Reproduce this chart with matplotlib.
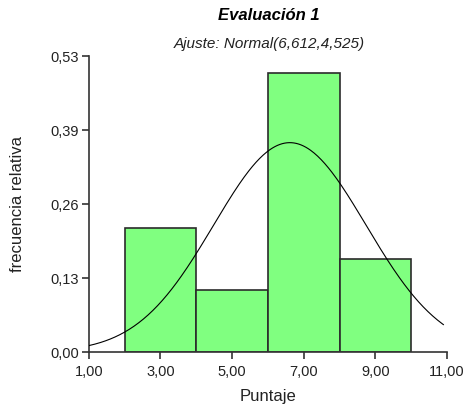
"""
Histogram of scores with fitted normal curve.
"""

import math
import numpy as np
import matplotlib.pyplot as plt

plt.rcParams["font.family"] = ["Liberation Sans", "DejaVu Sans"]

# Histogram bins and relative frequencies
bin_edges = [2.0, 4.0, 6.0, 8.0, 10.0]
rel_freq = [4 / 18, 2 / 18, 9 / 18, 3 / 18]

# Normal fit parameters (mean, variance)
fit_mean = 6.612
fit_var = 4.525

x_ticks = [1, 3, 5, 7, 9, 11]
y_max = 0.53
y_ticks = [0, y_max / 4, y_max / 2, 3 * y_max / 4, y_max]


def comma_label(v):
    # two decimals, truncated, decimal comma
    v = math.floor(v * 100 + 1e-6) / 100
    return f"{v:.2f}".replace(".", ",")


fig = plt.figure(figsize=(4.7, 4.07), dpi=100)
ax = fig.add_axes([0.189, 0.135, 0.762, 0.727])

# Bars
lefts = bin_edges[:-1]
widths = np.diff(bin_edges)
ax.bar(lefts, rel_freq, width=widths, align="edge",
       color="#80ff80", edgecolor="#2b2b2b", linewidth=1.2, zorder=2)

# Fitted normal curve scaled by bin width
sd = np.sqrt(fit_var)
xs = np.linspace(1.0, 10.9, 300)
pdf = np.exp(-0.5 * ((xs - fit_mean) / sd) ** 2) / (sd * np.sqrt(2 * np.pi))
ax.plot(xs, pdf * widths[0], color="black", linewidth=0.8, zorder=3)

# Axes formatting
ax.set_xlim(1, 11)
ax.set_ylim(0, y_max)
ax.set_xticks(x_ticks)
ax.set_xticklabels([comma_label(v) for v in x_ticks])
ax.set_yticks(y_ticks)
ax.set_yticklabels([comma_label(v) for v in y_ticks])
for side in ["top", "right"]:
    ax.spines[side].set_visible(False)
for side in ["left", "bottom"]:
    ax.spines[side].set_color("#333333")
    ax.spines[side].set_linewidth(1.2)
ax.tick_params(direction="out", length=5, width=1.2, color="#333333",
               labelsize=10.5, labelcolor="#222222", pad=2)
ax.tick_params(axis="x", pad=4)

ax.set_xlabel("Puntaje", fontsize=12, color="#222222", va="center")
ax.set_ylabel("frecuencia relativa", fontsize=12, color="#222222", va="center")
ax.xaxis.set_label_coords(0.5, -0.149)
ax.yaxis.set_label_coords(-0.198, 0.5)

fig.text(0.573, 0.961, "Evaluación 1", ha="center", va="center",
         fontsize=12, fontweight="bold", fontstyle="italic")
fig.text(0.573, 0.893, "Ajuste: Normal(6,612,4,525)", ha="center", va="center",
         fontsize=11, fontstyle="italic", color="#222222")

plt.savefig("out.png", dpi=100)
plt.close(fig)
